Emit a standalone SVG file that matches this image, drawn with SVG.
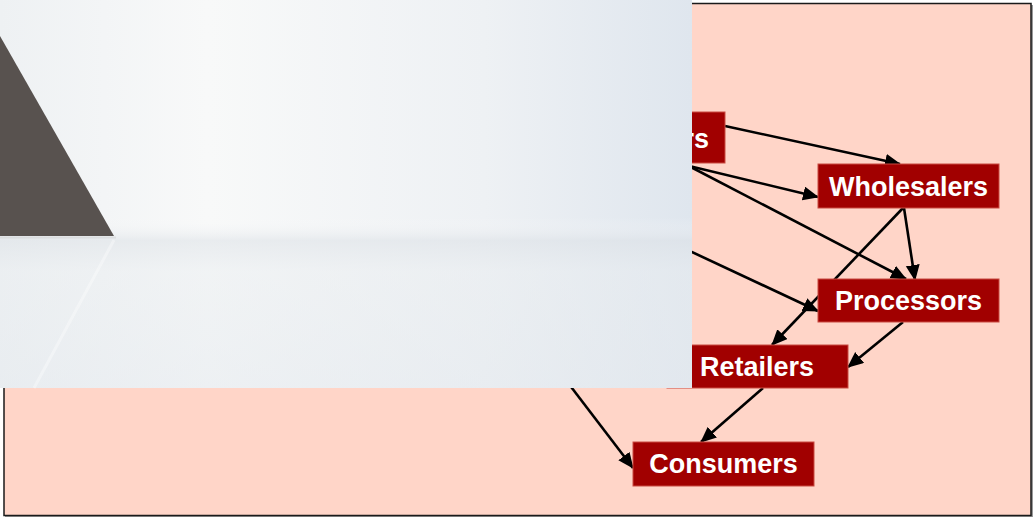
<svg xmlns="http://www.w3.org/2000/svg" width="1035" height="518" viewBox="0 0 1035 518">
  <style>
    .box { fill: #a10000; stroke: #c94a40; stroke-width: 1; }
    .lbl { font-family: "Liberation Sans", Arial, sans-serif; font-weight: bold; font-size: 27px; fill: #ffffff; text-anchor: middle; }
    .conn { stroke: #000000; stroke-width: 2.6; fill: none; marker-end: url(#arrow); }
  </style>
  <defs>
    <marker id="arrow" markerUnits="userSpaceOnUse" markerWidth="17" markerHeight="15" refX="15" refY="7" orient="auto">
      <path d="M0,0 L16,7 L0,14 z" fill="#000000"/>
    </marker>
    <linearGradient id="ovH" x1="0" y1="0" x2="1" y2="0">
      <stop offset="0" stop-color="#eef1f3"/>
      <stop offset="0.3" stop-color="#f8f9f9"/>
      <stop offset="0.7" stop-color="#eef1f4"/>
      <stop offset="1" stop-color="#dfe6ee"/>
    </linearGradient>
    <linearGradient id="ovV" x1="0" y1="0" x2="0" y2="1">
      <stop offset="0" stop-color="#ffffff" stop-opacity="0"/>
      <stop offset="0.56" stop-color="#ffffff" stop-opacity="0"/>
      <stop offset="0.62" stop-color="#dce1e6" stop-opacity="0.55"/>
      <stop offset="0.7" stop-color="#e8ecef" stop-opacity="0.45"/>
      <stop offset="1" stop-color="#e4e9ee" stop-opacity="0.55"/>
    </linearGradient>
  </defs>

  <rect x="5" y="5" width="1028" height="512" fill="#9a9a9a"/>
  <rect x="4" y="3.5" width="1027" height="512" fill="#ffd5c8" stroke="#1a1a1a" stroke-width="1.5"/>

  <g id="connectors">
    <line class="conn" x1="725" y1="126" x2="900" y2="164"/>
    <line class="conn" x1="685" y1="165" x2="818" y2="197"/>
    <line class="conn" x1="685" y1="164" x2="906" y2="279"/>
    <line class="conn" x1="904" y1="208" x2="915" y2="280"/>
    <line class="conn" x1="903" y1="208" x2="772" y2="345"/>
    <line class="conn" x1="600" y1="209" x2="818" y2="311"/>
    <line class="conn" x1="903" y1="322" x2="848" y2="367"/>
    <line class="conn" x1="763" y1="388" x2="701" y2="442"/>
    <line class="conn" x1="520" y1="320" x2="633" y2="468"/>
  </g>

  <g id="node-top">
    <rect class="box" x="545" y="112" width="180" height="51"/>
    <text class="lbl" x="709" y="148" style="text-anchor:end">rs</text>
  </g>
  <g id="node-wholesalers">
    <rect class="box" x="818" y="164" width="181" height="44"/>
    <text class="lbl" x="908.5" y="196">Wholesalers</text>
  </g>
  <g id="node-processors">
    <rect class="box" x="818" y="279" width="181" height="43"/>
    <text class="lbl" x="908.5" y="310">Processors</text>
  </g>
  <g id="node-retailers">
    <rect class="box" x="667" y="345" width="181" height="43"/>
    <text class="lbl" x="757" y="376">Retailers</text>
  </g>
  <g id="node-consumers">
    <rect class="box" x="633" y="442" width="181" height="44"/>
    <text class="lbl" x="723.5" y="473">Consumers</text>
  </g>

  <g id="overlay">
    <rect x="0" y="0" width="692" height="388" fill="url(#ovH)"/>
    <rect x="0" y="0" width="692" height="388" fill="url(#ovV)"/>
    <line x1="114" y1="240" x2="34" y2="388" stroke="#ffffff" stroke-width="3" stroke-opacity="0.35"/>
    <polygon points="0,36 114,236 0,236" fill="#58524f"/>
    <line x1="0" y1="237.5" x2="116" y2="237.5" stroke="#c8c8c8" stroke-width="2" stroke-opacity="0.4"/>
  </g>
</svg>
